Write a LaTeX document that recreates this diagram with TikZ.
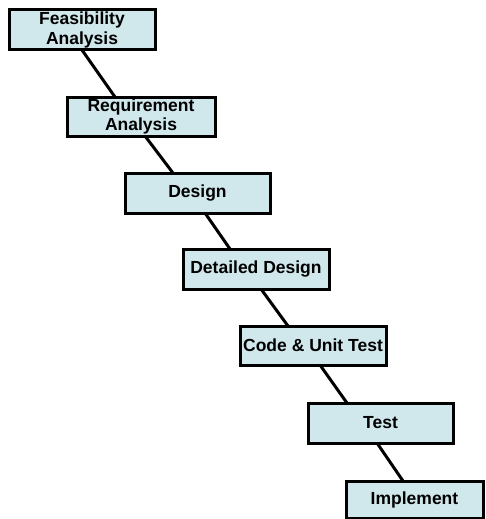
\documentclass[tikz,border=0pt]{standalone}
\usepackage{fontspec}
\setmainfont{Liberation Sans}
\definecolor{boxfill}{RGB}{208,232,236}
\begin{document}
\begin{tikzpicture}[x=1pt,y=-1pt,
  phase/.style={draw=black, line width=3pt, fill=boxfill, inner sep=0pt, outer sep=0pt,
    align=center, font=\bfseries\fontsize{17.5}{19.5}\selectfont, minimum width=146pt, minimum height=40pt},
  link/.style={line width=3pt, draw=black}]
\useasboundingbox (0,0) rectangle (486,519);
\node[phase] (a) at (82,30) {Feasibility\\Analysis};
\node[phase, minimum width=148pt, minimum height=39pt] (b) at (141,116.5) {Requirement\\Analysis};
\node[phase, minimum width=145pt] (c) at (197.5,193) {Design};
\node[phase] (d) at (256,269) {Detailed Design};
\node[phase, minimum height=39pt] (e) at (313,345.5) {Code \& Unit Test};
\node[phase, minimum width=145pt] (f) at (380.5,423) {Test};
\node[phase, minimum width=137pt, minimum height=37pt] (g) at (414.5,499.5) {Implement};
\draw[link] ([xshift=73pt]a.south west) -- ([xshift=48pt]b.north west);
\draw[link] ([xshift=78pt]b.south west) -- ([xshift=48pt]c.north west);
\draw[link] ([xshift=80pt]c.south west) -- ([xshift=47pt]d.north west);
\draw[link] ([xshift=78pt]d.south west) -- ([xshift=48pt]e.north west);
\draw[link] ([xshift=80pt]e.south west) -- ([xshift=39pt]f.north west);
\draw[link] ([xshift=69pt]f.south west) -- ([xshift=57pt]g.north west);
\end{tikzpicture}
\end{document}
